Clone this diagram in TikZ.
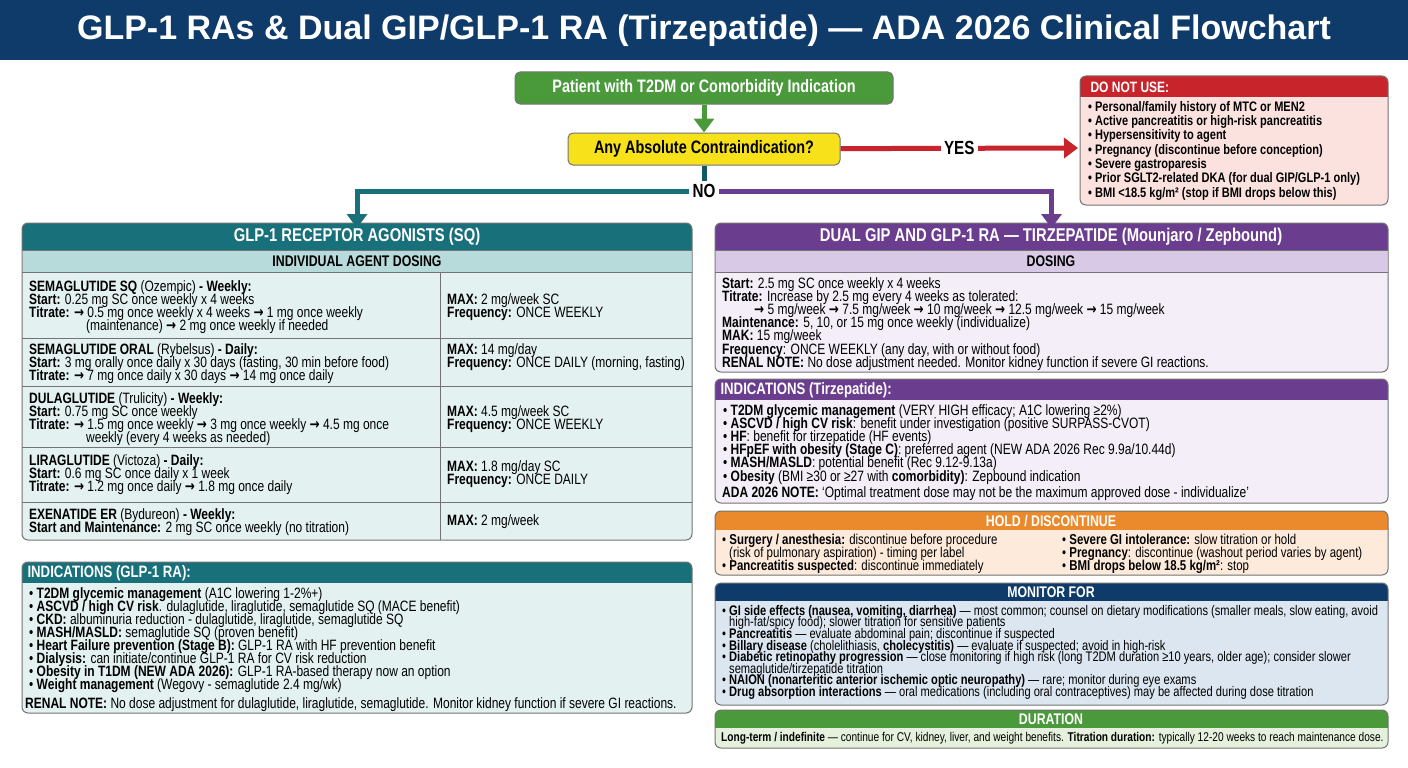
\documentclass[tikz,border=0pt]{standalone}
\usepackage{fontspec}
\setmainfont{Liberation Sans}[FakeStretch=0.8]
\newfontfamily\titlefont{Liberation Sans}
\newfontfamily\arfont{DejaVu Sans}[FakeStretch=0.8]
\newcommand\ra{{\arfont\bfseries →}}
\usetikzlibrary{arrows.meta,positioning}
\definecolor{navy}{HTML}{0E3B6A}
\definecolor{teal}{HTML}{17707A}
\definecolor{tealbody}{HTML}{E4F1F1}
\definecolor{tealsub}{HTML}{B7DADB}
\definecolor{purp}{HTML}{6B3D8E}
\definecolor{purpbody}{HTML}{F3EEF7}
\definecolor{purpsub}{HTML}{D8CAE6}
\definecolor{orng}{HTML}{EB8A2D}
\definecolor{orngbody}{HTML}{FDEADB}
\definecolor{navybody}{HTML}{DCE6F0}
\definecolor{grn}{HTML}{4A9A3C}
\definecolor{grnbody}{HTML}{E5F1DC}
\definecolor{rd}{HTML}{C7242B}
\definecolor{rdbody}{HTML}{FBE2DF}
\definecolor{ylw}{HTML}{F7E11B}
% panel: name, x1, y1, x2, y2, header bottom, header colour, body colour
\newcommand\panel[8]{%
	\fill[#8, rounded corners=6] (#2,#3) rectangle (#4,#5);
	\begin{scope}
		\clip[rounded corners=6] (#2,#3) rectangle (#4,#5);
		\fill[#7] (#2,#3) rectangle (#4,#6);
	\end{scope}
	\draw[black!55, line width=1, rounded corners=6] (#2,#3) rectangle (#4,#5);
	\coordinate (#1) at ({(#2+#4)/2},#3);
}
\begin{document}
\lineskiplimit=-100pt
\lineskip=0pt
\begin{tikzpicture}
[
	x = 1pt, y = -1pt,
	head/.style		= {text = white, font = \fontsize{18.5}{20}\selectfont\bfseries},
	lhead/.style	= {text = white, font = \fontsize{16.5}{18}\selectfont\bfseries, anchor = west},
	sub/.style		= {font = \fontsize{15.4}{17}\selectfont\bfseries},
	body/.style		= {anchor = north west, inner sep = 0, align = left, font = \fontsize{15}{13.3}\selectfont},
	small/.style	= {anchor = north west, inner sep = 0, align = left, font = \fontsize{13.9}{11.6}\selectfont},
	flow/.style		= {line width = 5, -{Triangle[length=14, width=20]}},
	decision/.style	= {rounded corners = 5, draw = black!55, line width = 1, minimum height = 32,
						font = \fontsize{18}{19}\selectfont\bfseries},
]
\useasboundingbox (0,0) rectangle (1408,768);
\fill[white] (0,0) rectangle (1408,768);

% title
\fill[navy] (0,0) rectangle (1408,60);
\node[text = white, font = \titlefont\fontsize{34}{36}\selectfont\bfseries] (title) at (704,31)
	{GLP-1 RAs \& Dual GIP/GLP-1 RA (Tirzepatide) — ADA 2026 Clinical Flowchart};

% decision steps
\node[decision, fill = grn, text = white, minimum width = 378] (patient) at (704,88) {Patient with T2DM or Comorbidity Indication};
\node[decision, fill = ylw, minimum width = 272] (contra) at (704,149) {Any Absolute Contraindication?};

% panels
\panel{donot}{1080}{76}{1388}{205}{97}{rd}{rdbody}
\panel{glp}{22}{223}{692}{540}{250}{teal}{tealbody}
\panel{glpind}{22}{562}{692}{713}{583}{teal}{tealbody}
\panel{tirz}{715}{223}{1388}{372}{250}{purp}{purpbody}
\panel{tirzind}{715}{379}{1388}{503}{400}{purp}{purpbody}
\panel{hold}{715}{511}{1388}{575}{530}{orng}{orngbody}
\panel{monitor}{715}{583}{1388}{705}{601}{navy}{navybody}
\panel{duration}{715}{710}{1388}{748}{728}{grn}{grnbody}
\coordinate (donot-w) at (1078,148);

% sub headers and table rules
\fill[tealsub] (23,250) rectangle (691,272);
\fill[purpsub] (716,250) rectangle (1387,272);
\draw[black!55, line width = 0.8] (22,250) -- (692,250) (22,272) -- (692,272)
	(715,250) -- (1388,250) (715,272) -- (1388,272);
\foreach \y in {338,386,447,502}
	\draw[black!55, line width = 0.8] (22,\y) -- (692,\y);
\draw[black!55, line width = 0.8] (440,272) -- (440,540);

% connectors
\draw[flow, grn] (patient) -- (contra);
\draw[flow, rd] (contra) -- (donot-w) node[pos = 0.5, text = black, font = \fontsize{19}{20}\selectfont\bfseries, fill = white] (yes) {YES};
\node[font = \fontsize{19}{20}\selectfont\bfseries] (no) at (704,191) {NO};
\draw[line width = 5, teal!80!black] (contra.south) -- (no.north);
\draw[flow, teal] (no.west) -| ([yshift = -5]glp);
\draw[flow, purp] (no.east) -| ([yshift = -5]tirz);

% DO NOT USE
\node[lhead, font = \fontsize{15}{16}\selectfont\bfseries] at (1087,87) {DO NOT USE:};
\node[body, font = \fontsize{13.8}{14.3}\selectfont\bfseries] at (1088,101) {%
	• Personal/family history of MTC or MEN2\\
	• Active pancreatitis or high-risk pancreatitis\\
	• Hypersensitivity to agent\\
	• Pregnancy (discontinue before conception)\\
	• Severe gastroparesis\\
	• Prior SGLT2-related DKA (for dual GIP/GLP-1 only)\\
	• BMI <18.5 kg/m² (stop if BMI drops below this)};

% GLP-1 table
\node[head] at (357,237) {GLP-1 RECEPTOR AGONISTS (SQ)};
\node[sub] at (357,261) {INDIVIDUAL AGENT DOSING};
\node[body] at (29,280) {\textbf{SEMAGLUTIDE SQ} (Ozempic) \textbf{- Weekly:}\\
	\textbf{Start:} 0.25 mg SC once weekly x 4 weeks\\
	\textbf{Titrate:} \ra{} 0.5 mg once weekly x 4 weeks \ra{} 1 mg once weekly\\
	\hspace*{57pt}(maintenance) \ra{} 2 mg once weekly if needed};
\node[body] at (29,343) {\textbf{SEMAGLUTIDE ORAL} (Rybelsus) \textbf{- Daily:}\\
	\textbf{Start:} 3 mg orally once daily x 30 days (fasting, 30 min before food)\\
	\textbf{Titrate:} \ra{} 7 mg once daily x 30 days \ra{} 14 mg once daily};
\node[body] at (29,392) {\textbf{DULAGLUTIDE} (Trulicity) \textbf{- Weekly:}\\
	\textbf{Start:} 0.75 mg SC once weekly\\
	\textbf{Titrate:} \ra{} 1.5 mg once weekly \ra{} 3 mg once weekly \ra{} 4.5 mg once\\
	\hspace*{57pt}weekly (every 4 weeks as needed)};
\node[body] at (29,454) {\textbf{LIRAGLUTIDE} (Victoza) \textbf{- Daily:}\\
	\textbf{Start:} 0.6 mg SC once daily x 1 week\\
	\textbf{Titrate:} \ra{} 1.2 mg once daily \ra{} 1.8 mg once daily};
\node[body] at (29,508) {\textbf{EXENATIDE ER} (Bydureon) \textbf{- Weekly:}\\
	\textbf{Start and Maintenance:} 2 mg SC once weekly (no titration)};
\node[body] at (447,293) {\textbf{MAX:} 2 mg/week SC\\ \textbf{Frequency:} ONCE WEEKLY};
\node[body] at (447,343) {\textbf{MAX:} 14 mg/day\\ \textbf{Frequency:} ONCE DAILY (morning, fasting)};
\node[body] at (447,405) {\textbf{MAX:} 4.5 mg/week SC\\ \textbf{Frequency:} ONCE WEEKLY};
\node[body] at (447,460) {\textbf{MAX:} 1.8 mg/day SC\\ \textbf{Frequency:} ONCE DAILY};
\node[body] at (447,514) {\textbf{MAX:} 2 mg/week};

% GLP-1 indications
\node[lhead] at (24,573) {INDICATIONS (GLP-1 RA):};
\node[body, font = \fontsize{15}{13}\selectfont] at (29,587) {%
	• \textbf{T2DM glycemic management} (A1C lowering 1-2\%+)\\
	• \textbf{ASCVD / high CV risk}. dulaglutide, liraglutide, semaglutide SQ (MACE benefit)\\
	• \textbf{CKD:} albuminuria reduction - dulaglutide, liraglutide, semaglutide SQ\\
	• \textbf{MASH/MASLD:} semaglutide SQ (proven benefit)\\
	• \textbf{Heart Failure prevention (Stage B):} GLP-1 RA with HF prevention benefit\\
	• \textbf{Dialysis:} can initiate/continue GLP-1 RA for CV risk reduction\\
	• \textbf{Obesity in T1DM (NEW ADA 2026):} GLP-1 RA-based therapy now an option\\
	• \textbf{Weight management} (Wegovy - semaglutide 2.4 mg/wk)};
\node[body, font = \fontsize{15}{13}\selectfont] at (25,697) {\textbf{RENAL NOTE:} No dose adjustment for dulaglutide, liraglutide, semaglutide. Monitor kidney function if severe GI reactions.};

% tirzepatide dosing
\node[head] at (1051,237) {DUAL GIP AND GLP-1 RA — TIRZEPATIDE (Mounjaro / Zepbound)};
\node[sub] at (1051,261) {DOSING};
\node[body, font = \fontsize{15}{13.2}\selectfont] at (722,277) {%
	\textbf{Start:} 2.5 mg SC once weekly x 4 weeks\\
	\textbf{Titrate:} Increase by 2.5 mg every 4 weeks as tolerated:\\
	\hspace*{32pt}\ra{} 5 mg/week \ra{} 7.5 mg/week \ra{} 10 mg/week \ra{} 12.5 mg/week \ra{} 15 mg/week\\
	\textbf{Maintenance:} 5, 10, or 15 mg once weekly (individualize)\\
	\textbf{MAK:} 15 mg/week\\
	\textbf{Frequency}: ONCE WEEKLY (any day, with or without food)\\
	\textbf{RENAL NOTE:} No dose adjustment needed. Monitor kidney function if severe GI reactions.};

% tirzepatide indications
\node[lhead] at (717,390) {INDICATIONS (Tirzepatide):};
\node[body, font = \fontsize{15}{13.2}\selectfont] at (723,404) {%
	• \textbf{T2DM glycemic management} (VERY HIGH efficacy; A1C lowering ≥2\%)\\
	• \textbf{ASCVD / high CV risk}: benefit under investigation (positive SURPASS-CVOT)\\
	• \textbf{HF}: benefit for tirzepatide (HF events)\\
	• \textbf{HFpEF with obesity (Stage C)}: preferred agent (NEW ADA 2026 Rec 9.9a/10.44d)\\
	• \textbf{MASH/MASLD}: potential benefit (Rec 9.12-9.13a)\\
	• \textbf{Obesity} (BMI ≥30 or ≥27 with \textbf{comorbidity)}: Zepbound indication};
\node[body, font = \fontsize{15}{13}\selectfont] at (722,486) {\textbf{ADA 2026 NOTE:} `Optimal treatment dose may not be the maximum approved dose - individualize'};

% hold / discontinue
\node[head, font = \fontsize{15.4}{17}\selectfont\bfseries] at (1051,521) {HOLD / DISCONTINUE};
\node[body, font = \fontsize{14.3}{12.8}\selectfont] at (722,534) {%
	• \textbf{Surgery / anesthesia:} discontinue before procedure\\
	\hspace*{7pt}(risk of pulmonary aspiration) - timing per label\\
	• \textbf{Pancreatitis suspected}: discontinue immediately};
\node[body, font = \fontsize{14.3}{12.8}\selectfont] at (1062,534) {%
	• \textbf{Severe GI intolerance:} slow titration or hold\\
	• \textbf{Pregnancy}: discontinue (washout period varies by agent)\\
	• \textbf{BMI drops below 18.5 kg/m²}: stop};

% monitor for
\node[head, font = \fontsize{15.4}{17}\selectfont\bfseries] at (1051,592) {MONITOR FOR};
\node[small] at (722,605) {%
	• \textbf{GI side effects (nausea, vomiting, diarrhea)} — most common; counsel on dietary modifications (smaller meals, slow eating, avoid\\
	\hspace*{7pt}high-fat/spicy food); slower titration for sensitive patients\\
	• \textbf{Pancreatitis} — evaluate abdominal pain; discontinue if suspected\\
	• \textbf{Billary disease} (cholelithiasis, \textbf{cholecystitis)} — evaluate if suspected; avoid in high-risk\\
	• \textbf{Diabetic retinopathy progression} — close monitoring if high risk (long T2DM duration ≥10 years, older age); consider slower\\
	\hspace*{7pt}semaglutide/tirzepatide titration\\
	• \textbf{NAION (nonarteritic anterior ischemic optic neuropathy)} — rare; monitor during eye exams\\
	• \textbf{Drug absorption interactions} — oral medications (including oral contraceptives) may be affected during dose titration};

% duration
\node[head, font = \fontsize{15.4}{17}\selectfont\bfseries] at (1051,719) {DURATION};
\node[small, font = \fontsize{12.7}{13}\selectfont] at (721,732) {\textbf{Long-term / indefinite} — continue for CV, kidney, liver, and weight benefits. \textbf{Titration duration:} typically 12-20 weeks to reach maintenance dose.};

\end{tikzpicture}
\end{document}
